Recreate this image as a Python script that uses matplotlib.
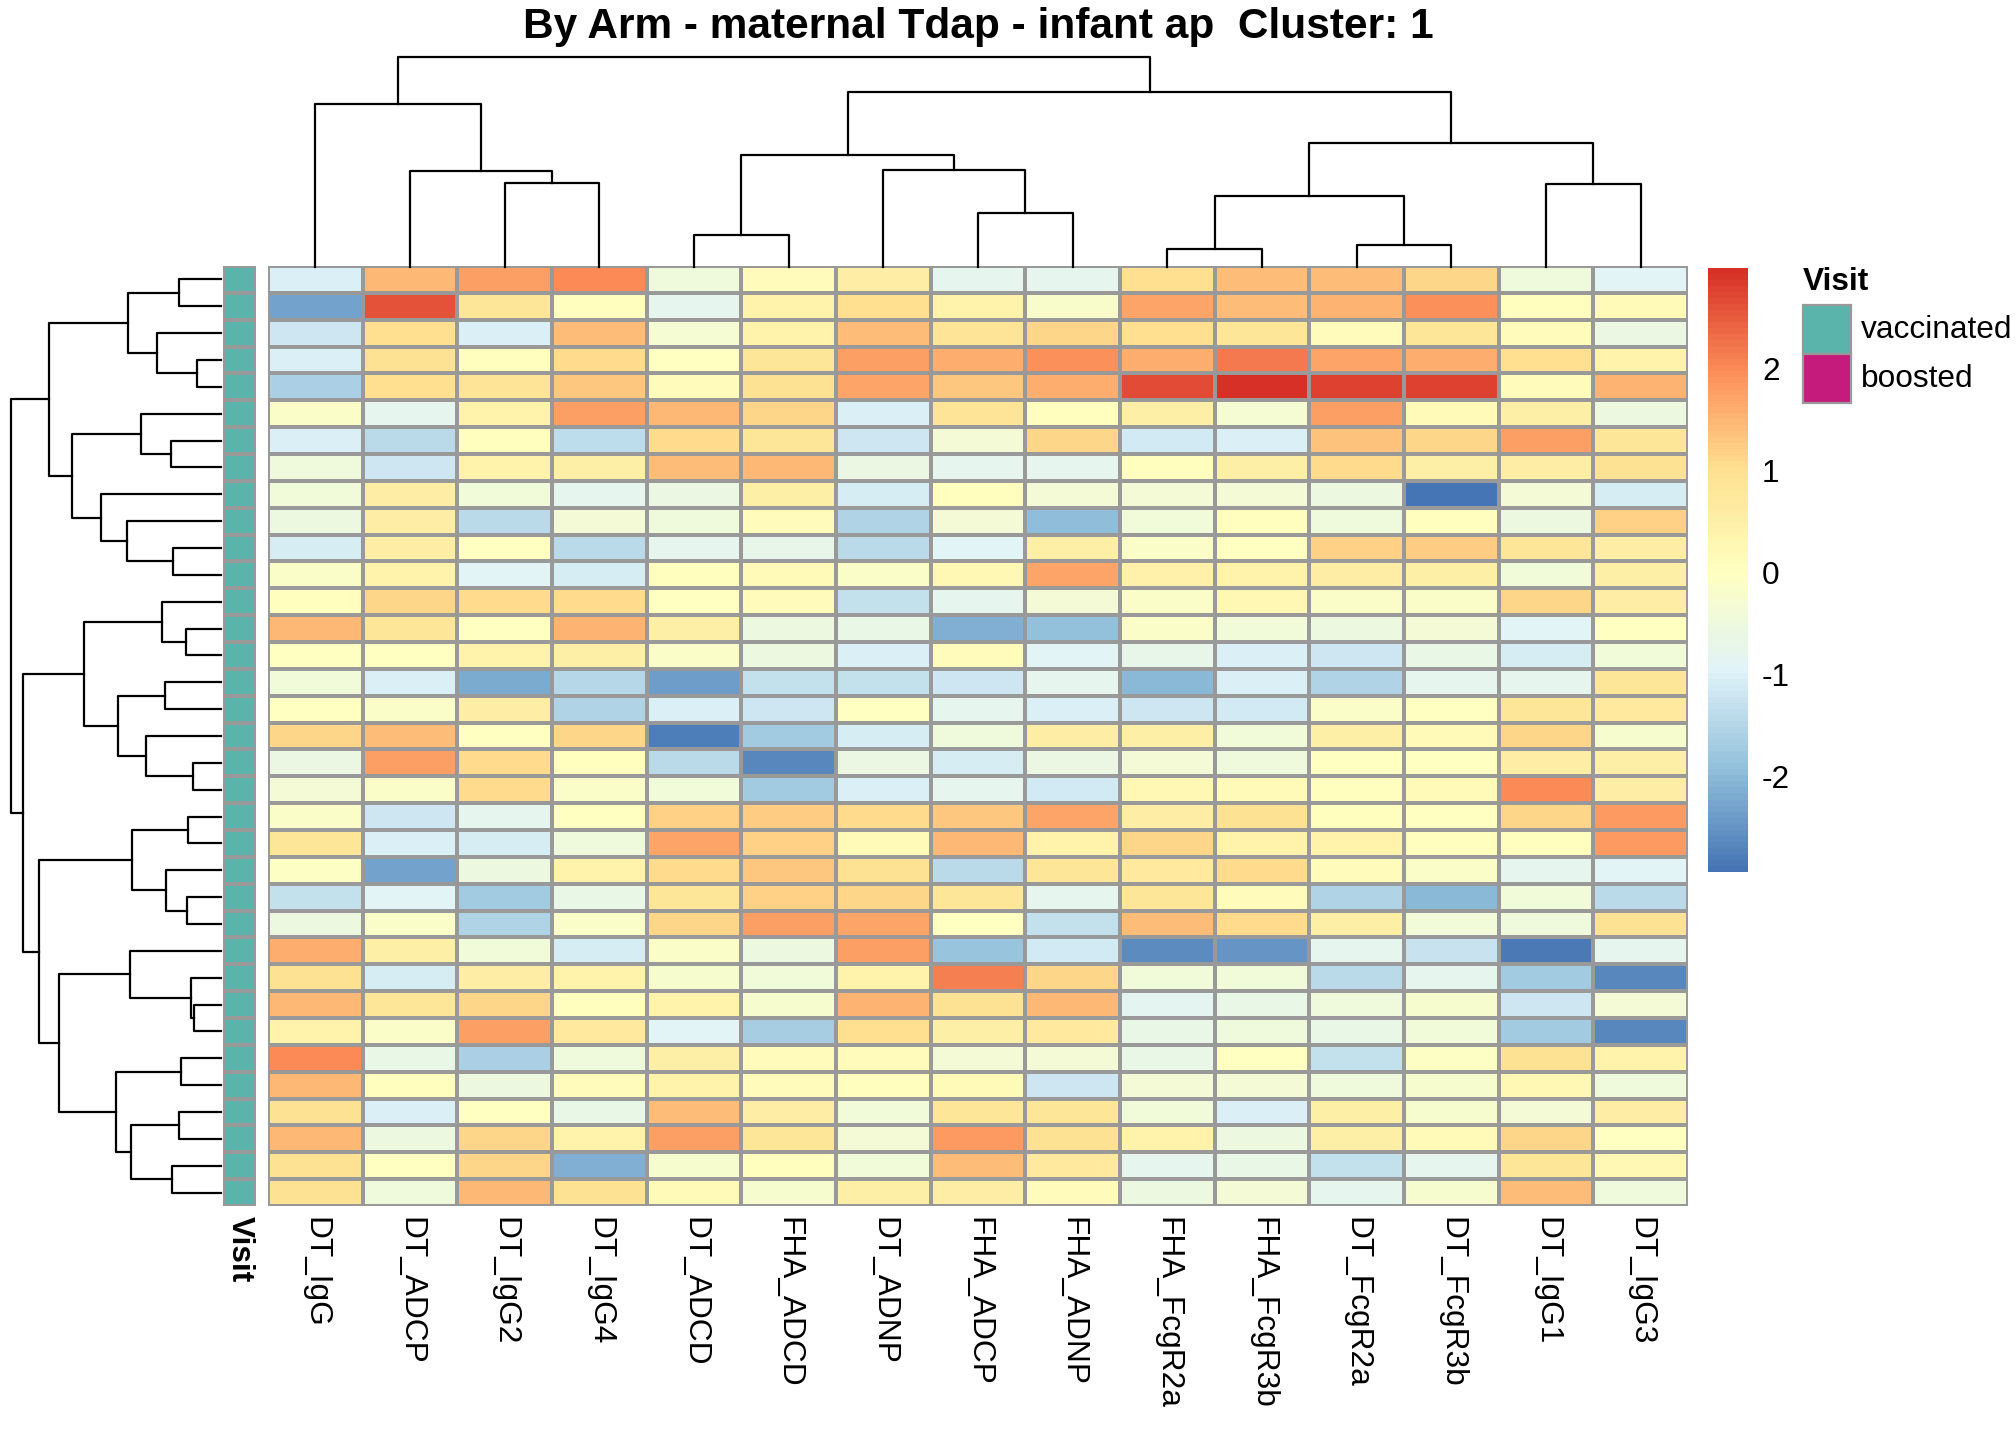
import numpy as np
import matplotlib
matplotlib.use('Agg')
import matplotlib.pyplot as plt
from matplotlib.colors import LinearSegmentedColormap, ListedColormap
from matplotlib.patches import Rectangle

plt.rcParams['font.family'] = ['Liberation Sans', 'DejaVu Sans']
plt.rcParams['axes.unicode_minus'] = False

title = 'By Arm - maternal Tdap - infant ap  Cluster: 1'

features = ['DT_IgG', 'DT_ADCP', 'DT_IgG2', 'DT_IgG4', 'DT_ADCD', 'FHA_ADCD',
            'DT_ADNP', 'FHA_ADCP', 'FHA_ADNP', 'FHA_FcgR2a', 'FHA_FcgR3b',
            'DT_FcgR2a', 'DT_FcgR3b', 'DT_IgG1', 'DT_IgG3']

# scaled values, one row per sample (already in clustered order)
values = [
    [-1.0, 1.5, 1.8, 2.0, -0.5, 0.1, 0.6, -0.8, -0.8, 1.0, 1.4, 1.4, 1.1, -0.5, -0.9],
    [-2.3, 2.6, 0.8, 0.05, -0.8, 0.4, 1.0, 0.4, -0.2, 1.7, 1.4, 1.55, 1.95, 0.05, 0.2],
    [-1.2, 1.0, -1.0, 1.4, -0.3, 0.4, 1.4, 0.9, 1.1, 1.0, 0.8, 0.1, 0.8, 0.1, -0.6],
    [-1.0, 0.95, 0.05, 1.05, 0.0, 0.8, 1.75, 1.6, 1.95, 1.6, 2.2, 1.7, 1.6, 1.0, 0.4],
    [-1.6, 1.0, 0.9, 1.3, 0.1, 0.95, 1.7, 1.3, 1.6, 2.65, 2.99, 2.8, 2.8, 0.1, 1.55],
    [-0.1, -0.8, 0.4, 1.8, 1.5, 1.1, -1.0, 0.9, 0.05, 0.5, -0.3, 1.8, 0.15, 0.5, -0.55],
    [-1.0, -1.45, 0.05, -1.35, 1.05, 0.8, -1.2, -0.35, 1.1, -1.15, -1.0, 1.35, 1.1, 1.75, 0.8],
    [-0.5, -1.2, 0.4, 0.55, 1.4, 1.45, -0.6, -0.75, -0.75, 0.05, 0.5, 1.05, 0.5, 0.6, 0.95],
    [-0.4, 0.6, -0.4, -0.75, -0.6, 0.5, -1.1, 0.05, -0.35, -0.35, -0.35, -0.55, -2.94, -0.35, -1.1],
    [-0.55, 0.6, -1.45, -0.35, -0.5, 0.1, -1.55, -0.35, -1.95, -0.4, 0.05, -0.5, 0.05, -0.55, 1.2],
    [-1.1, 0.6, 0.0, -1.45, -0.75, -0.7, -1.45, -0.9, 0.5, -0.1, 0.0, 1.2, 1.25, 0.85, 0.6],
    [-0.15, 0.4, -0.9, -1.1, 0.05, 0.2, -0.1, 0.25, 1.7, 0.45, 0.4, 0.6, 0.5, -0.4, 0.55],
    [0.05, 1.15, 1.05, 1.05, 0.0, 0.1, -1.3, -0.8, -0.35, -0.1, 0.25, -0.15, -0.1, 1.1, 0.6],
    [1.5, 0.8, 0.0, 1.55, 0.55, -0.55, -0.65, -2.15, -1.9, -0.1, -0.4, -0.55, -0.35, -0.9, 0.0],
    [0.0, 0.0, 0.4, 0.5, -0.15, -0.55, -1.0, 0.1, -0.9, -0.7, -1.0, -1.2, -0.65, -1.1, -0.4],
    [-0.4, -1.0, -2.2, -1.5, -2.4, -1.3, -1.3, -1.2, -0.8, -2.0, -1.0, -1.55, -0.75, -0.75, 0.85],
    [0.0, -0.15, 0.6, -1.55, -1.0, -1.2, 0.0, -0.8, -1.0, -1.2, -1.15, -0.15, 0.0, 0.8, 0.7],
    [1.1, 1.4, 0.0, 1.1, -2.8, -1.75, -1.1, -0.5, 0.6, 0.55, -0.4, 0.5, 0.2, 1.15, -0.25],
    [-0.6, 1.8, 1.05, 0.05, -1.45, -2.65, -0.6, -1.1, -0.6, -0.35, -0.5, 0.0, 0.0, 0.6, 0.55],
    [-0.35, -0.15, 1.05, -0.15, -0.4, -1.75, -1.0, -0.8, -1.15, 0.25, 0.2, 0.05, 0.15, 2.0, 0.6],
    [-0.15, -1.2, -0.8, 0.0, 1.2, 1.25, 1.05, 1.3, 1.7, 0.6, 0.95, 0.05, 0.0, 1.15, 1.85],
    [0.85, -1.0, -1.1, -0.5, 1.7, 1.2, 0.15, 1.45, 0.4, 1.1, 0.4, 0.4, 0.05, 0.05, 1.85],
    [-0.05, -2.3, -0.55, 0.4, 1.05, 1.3, 0.95, -1.45, 0.85, 0.7, 1.05, 0.1, -0.1, -0.8, -0.9],
    [-1.3, -0.9, -1.7, -0.65, 0.85, 1.2, 1.15, 0.85, -0.75, 0.85, 0.1, -1.55, -2.05, -0.4, -1.45],
    [-0.55, -0.15, -1.55, -0.15, 1.15, 1.75, 1.7, 0.0, -1.3, 1.4, 1.05, 0.5, -0.4, -0.5, 0.95],
    [1.6, 0.5, -0.4, -1.1, -0.15, -0.55, 1.75, -1.85, -1.15, -2.6, -2.5, -0.75, -1.25, -2.85, -0.75],
    [0.95, -1.1, 0.6, 0.4, -0.25, -0.4, 0.4, 2.15, 1.15, -0.4, -0.4, -1.45, -0.75, -1.75, -2.65],
    [1.5, 0.8, 1.1, 0.05, 0.4, -0.25, 1.55, 0.95, 1.45, -0.85, -0.65, -0.5, -0.25, -1.2, -0.35],
    [0.4, -0.15, 1.75, 0.7, -0.9, -1.65, 1.0, 0.55, 0.7, -0.65, -0.5, -0.65, -0.4, -1.75, -2.65],
    [2.0, -0.65, -1.6, -0.5, 0.55, 0.1, 0.1, -0.35, -0.35, -0.65, 0.0, -1.3, -0.05, 0.95, 0.4],
    [1.5, 0.05, -0.55, 0.1, 0.4, 0.1, 0.05, 0.15, -1.2, -0.35, -0.35, -0.5, -0.25, 0.25, -0.5],
    [0.95, -1.0, 0.0, -0.65, 1.4, 0.6, -0.4, 0.85, 0.8, -0.4, -1.0, 0.55, -0.25, -0.35, 0.6],
    [1.45, -0.55, 1.1, 0.4, 1.8, 0.8, -0.35, 1.85, 0.95, 0.4, -0.55, 0.5, 0.2, 1.15, 0.0],
    [0.95, 0.0, 1.1, -2.15, -0.25, 0.05, -0.4, 1.4, 0.7, -0.75, -0.65, -1.3, -0.75, 0.85, 0.25],
    [0.95, -0.5, 1.45, 0.95, 0.15, -0.25, 0.5, 0.6, 0.1, -0.55, -0.35, -0.8, -0.25, 1.4, -0.5],
]

visit = ['vaccinated'] * 35
visit_levels = ['vaccinated', 'boosted']
visit_colors = ['#5AB4AC', '#C51B7D']

# hclust style merges: (child a, child b, height); ids >= n are earlier merges
col_merges = [
    (9, 10, 18), (11, 12, 22), (4, 5, 32), (7, 8, 55), (15, 16, 72),
    (13, 14, 84), (2, 3, 85), (1, 21, 97), (6, 18, 98), (17, 23, 114),
    (19, 20, 126), (0, 22, 165), (24, 25, 177.5), (26, 27, 213),
]
row_merges = [
    (0, 1, 42), (3, 4, 24), (2, 36, 64), (35, 37, 93), (6, 7, 50),
    (5, 39, 80), (10, 11, 48), (9, 41, 94), (8, 42, 120), (40, 43, 149),
    (38, 44, 172), (13, 14, 35), (12, 46, 59), (15, 16, 56), (18, 19, 28),
    (17, 49, 75), (48, 50, 103), (47, 51, 137), (20, 21, 33), (23, 24, 34),
    (22, 54, 55), (53, 55, 89), (27, 28, 27), (26, 57, 30), (25, 58, 91),
    (29, 30, 40), (31, 32, 42), (33, 34, 49), (61, 62, 90), (60, 63, 105),
    (59, 64, 162), (56, 65, 182), (52, 66, 198), (45, 67, 210),
]

data = np.array(values)
n_rows, n_cols = data.shape

W, H = 2016, 1440
fig = plt.figure(figsize=(W / 100, H / 100), dpi=100)


def px_axes(left, top, right, bottom):
    ax = fig.add_axes([left / W, 1 - bottom / H, (right - left) / W, (bottom - top) / H])
    ax.set_axis_off()
    return ax


def dendro_segments(merges, n):
    pos = {i: i + 0.5 for i in range(n)}
    hgt = {i: 0.0 for i in range(n)}
    segs = []
    for k, (a, b, h) in enumerate(merges):
        segs.append(([pos[a], pos[a], pos[b], pos[b]], [hgt[a], h, h, hgt[b]]))
        pos[n + k] = (pos[a] + pos[b]) / 2
        hgt[n + k] = h
    return segs


grey = '#999999'
fs = 22.8

cmap = LinearSegmentedColormap.from_list(
    'rdylbu', ['#4575B4', '#91BFDB', '#E0F3F8', '#FFFFBF', '#FEE090', '#FC8D59', '#D73027'], N=100)

# heatmap
hx0, hy0, hx1, hy1 = 268, 266, 1688, 1206
ax = px_axes(hx0, hy0, hx1, hy1)
mesh = ax.pcolormesh(data, cmap=cmap, vmin=data.min(), vmax=data.max(),
                     edgecolors=grey, linewidth=1.6)
ax.set_xlim(0, n_cols)
ax.set_ylim(n_rows, 0)

# annotation column
ax_ann = px_axes(223, hy0, 256, hy1)
codes = np.array([[visit_levels.index(v)] for v in visit])
ax_ann.pcolormesh(codes, cmap=ListedColormap(visit_colors), vmin=0, vmax=1,
                  edgecolors=grey, linewidth=1.6)
ax_ann.set_xlim(0, 1)
ax_ann.set_ylim(n_rows, 0)

# column dendrogram
ax_cd = px_axes(hx0, 57, hx1, 267)
for xs, ys in dendro_segments(col_merges, n_cols):
    ax_cd.plot(xs, ys, color='black', lw=1.6, clip_on=False)
ax_cd.set_xlim(0, n_cols)
ax_cd.set_ylim(0, max(m[2] for m in col_merges))

# row dendrogram
ax_rd = px_axes(11, hy0, 221, hy1)
for xs, ys in dendro_segments(row_merges, n_rows):
    ax_rd.plot(ys, xs, color='black', lw=1.6, clip_on=False)
ax_rd.set_xlim(max(m[2] for m in row_merges), 0)
ax_rd.set_ylim(n_rows, 0)

# column labels
cell_w = (hx1 - hx0) / n_cols
for j, name in enumerate(features):
    fig.text((hx0 + (j + 0.5) * cell_w) / W, 1 - 1217 / H, name, rotation=-90,
             ha='center', va='top', fontsize=fs)
fig.text(239.5 / W, 1 - 1216 / H, 'Visit', rotation=-90, ha='center', va='top',
         fontsize=fs, fontweight='bold')

# colour key
cax = fig.add_axes([1708 / W, 1 - 872 / H, 40 / W, 604 / H])
cb = fig.colorbar(mesh, cax=cax, ticks=[-2, -1, 0, 1, 2])
cb.outline.set_visible(False)
cax.tick_params(length=0, labelsize=fs, pad=10)
cax.set_yticklabels(['-2', '-1', '0', '1', '2'])

# Visit legend
fig.text(1803 / W, 1 - 282 / H, 'Visit', ha='left', va='center', fontsize=fs,
         fontweight='bold')
ax_leg = fig.add_axes([0, 0, 1, 1], zorder=-1)
ax_leg.set_axis_off()
ax_leg.set_xlim(0, W)
ax_leg.set_ylim(H, 0)
for i, (lev, col) in enumerate(zip(visit_levels, visit_colors)):
    top = 305 + i * 49
    ax_leg.add_patch(Rectangle((1803, top), 48, 49, facecolor=col, edgecolor=grey, lw=1.6))
    ax_leg.text(1861, top + 25, lev, ha='left', va='center', fontsize=fs)

fig.text(978 / W, 1 - 27 / H, title, ha='center', va='center', fontsize=30.5,
         fontweight='bold')

fig.savefig('out.png', dpi=100)
